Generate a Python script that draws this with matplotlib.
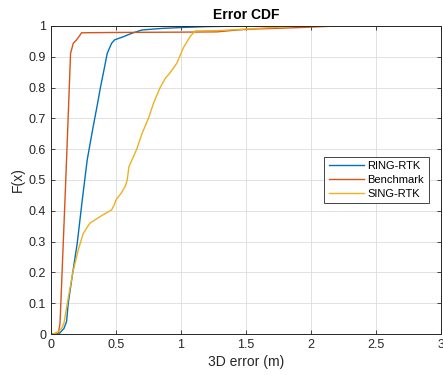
import matplotlib
matplotlib.use("Agg")
import matplotlib.pyplot as plt

# RING-RTK CDF (x in m, F)
ring_x = [0.0, 0.061, 0.10, 0.12, 0.133, 0.167, 0.202, 0.241, 0.279, 0.32, 0.359, 0.382,
          0.408, 0.433, 0.467, 0.49, 0.556, 0.62, 0.70, 0.85, 1.0, 1.2, 1.53, 3.0]
ring_f = [0.0, 0.0, 0.018, 0.04, 0.10, 0.197, 0.294, 0.435, 0.565, 0.662, 0.749, 0.803,
          0.857, 0.911, 0.944, 0.955, 0.965, 0.976, 0.987, 0.992, 0.995, 0.998, 1.0, 1.0]

# Benchmark CDF
bench_x = [0.0, 0.056, 0.07, 0.108, 0.12, 0.151, 0.172, 0.197, 0.223, 0.236, 0.5, 1.0,
           1.28, 1.43, 1.55, 1.92, 2.2, 3.0]
bench_f = [0.0, 0.0, 0.035, 0.435, 0.565, 0.911, 0.944, 0.955, 0.97, 0.978, 0.979, 0.980,
           0.981, 0.987, 0.99, 0.995, 1.0, 1.0]

# SING-RTK CDF
sing_x = [0.0, 0.018, 0.056, 0.082, 0.10, 0.126, 0.167, 0.21, 0.249, 0.30, 0.377, 0.467,
          0.487, 0.50, 0.54, 0.57, 0.587, 0.60, 0.66, 0.70, 0.75, 0.79, 0.84,
          0.88, 0.92, 0.97, 0.99, 1.02, 1.07, 1.11, 1.29, 1.5, 1.7, 1.92, 3.0]
sing_f = [0.0, 0.0, 0.008, 0.018, 0.035, 0.10, 0.197, 0.273, 0.327, 0.36, 0.381, 0.403,
          0.419, 0.435, 0.457, 0.478, 0.50, 0.543, 0.60, 0.65, 0.70, 0.75, 0.80,
          0.83, 0.85, 0.88, 0.90, 0.93, 0.965, 0.984, 0.985, 0.99, 0.995, 1.0, 1.0]

x_ticks = [0, 0.5, 1, 1.5, 2, 2.5, 3]
y_ticks = [i / 10 for i in range(11)]

plt.rcParams['font.family'] = ['Liberation Sans', 'DejaVu Sans']

fig = plt.figure(figsize=(4.43, 3.75), dpi=100)
ax = fig.add_axes([0.115, 0.1093, 0.880, 0.8214])

ax.plot(ring_x, ring_f, color='#0072BD', lw=1.0, label='RING-RTK')
ax.plot(bench_x, bench_f, color='#D95319', lw=1.0, label='Benchmark')
ax.plot(sing_x, sing_f, color='#EDB120', lw=1.0, label='SING-RTK')

ax.set_xlim(0, 3)
ax.set_ylim(0, 1)
ax.set_xticks(x_ticks)
ax.set_xticklabels(['0', '0.5', '1', '1.5', '2', '2.5', '3'])
ax.set_yticks(y_ticks)
ax.set_yticklabels(['0', '0.1', '0.2', '0.3', '0.4', '0.5', '0.6', '0.7', '0.8', '0.9', '1'])
ax.tick_params(direction='in', top=True, right=True, labelsize=9, length=3,
               width=0.6, colors='#262626')
ax.grid(True, color='#dcdcdc', lw=0.6)
ax.set_axisbelow(True)
for s in ax.spines.values():
    s.set_linewidth(0.7)
    s.set_color('#262626')

ax.set_xlabel('3D error (m)', fontsize=10, color='#262626', labelpad=3)
ax.set_ylabel('F(x)', fontsize=10, color='#262626', labelpad=3)
ax.set_title('Error CDF', fontsize=10, fontweight='bold', pad=5)

leg = ax.legend(loc='center left', bbox_to_anchor=(0.701, 0.5), fontsize=8,
                fancybox=False, edgecolor='#262626', framealpha=1,
                handlelength=3.2, handletextpad=0.3, borderpad=0.4,
                labelspacing=0.35, borderaxespad=0)
leg.get_frame().set_linewidth(0.6)

fig.savefig('out.png', dpi=100)
